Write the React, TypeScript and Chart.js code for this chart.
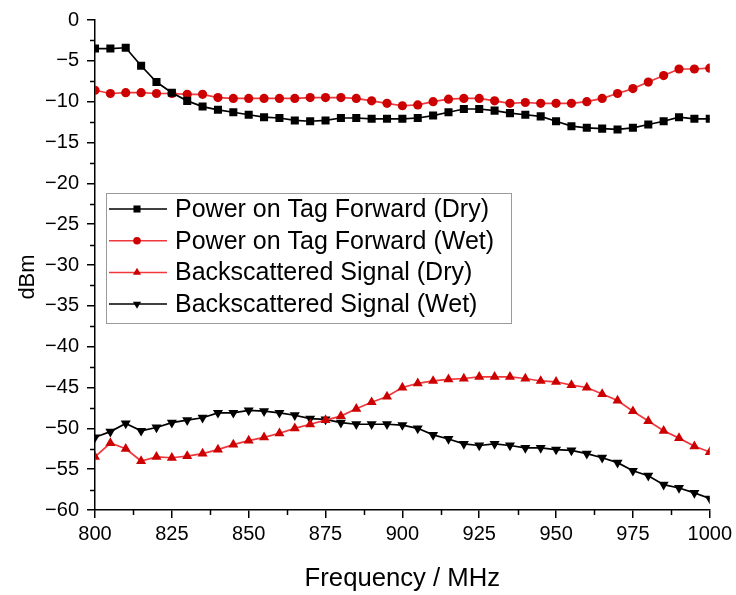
import React, { useEffect, useRef } from "react";
import { Chart, registerables } from "chart.js";

Chart.register(...registerables);

const frequencies = [
  800, 805, 810, 815, 820, 825, 830, 835, 840, 845, 850, 855, 860, 865, 870, 875, 880, 885, 890, 895,
  900, 905, 910, 915, 920, 925, 930, 935, 940, 945, 950, 955, 960, 965, 970, 975, 980, 985, 990, 995, 1000,
];

const powerDry = [
  -3.5, -3.5, -3.4, -5.6, -7.6, -8.9, -9.9, -10.6, -11.0, -11.3, -11.6, -11.9, -12.0, -12.3, -12.4, -12.3,
  -12.0, -12.0, -12.1, -12.1, -12.1, -12.0, -11.7, -11.3, -10.9, -10.9, -11.1, -11.4, -11.6, -11.8, -12.4,
  -13.0, -13.2, -13.3, -13.4, -13.2, -12.8, -12.4, -11.9, -12.1, -12.1,
];

const powerWet = [
  -8.6, -9.0, -8.9, -8.9, -9.0, -9.0, -9.1, -9.1, -9.5, -9.6, -9.6, -9.6, -9.6, -9.6, -9.5, -9.5, -9.5,
  -9.6, -9.9, -10.2, -10.5, -10.4, -10.0, -9.7, -9.6, -9.6, -9.9, -10.2, -10.1, -10.2, -10.2, -10.2, -10.0,
  -9.6, -9.0, -8.4, -7.6, -6.8, -6.0, -6.0, -5.9,
];

const backDry = [
  -53.5, -51.8, -52.5, -54.0, -53.5, -53.6, -53.4, -53.1, -52.6, -52.0, -51.5, -51.1, -50.6, -50.0, -49.5,
  -49.0, -48.5, -47.6, -46.8, -46.1, -45.0, -44.5, -44.2, -44.0, -43.9, -43.7, -43.7, -43.7, -43.9, -44.2,
  -44.3, -44.7, -45.0, -45.8, -46.6, -47.9, -49.1, -50.3, -51.2, -52.2, -52.9,
];

const backWet = [
  -51.1, -50.4, -49.4, -50.3, -49.9, -49.3, -49.0, -48.7, -48.1, -48.1, -47.8, -47.9, -48.1, -48.4, -48.8,
  -48.9, -49.3, -49.5, -49.5, -49.5, -49.6, -50.0, -50.8, -51.3, -51.9, -52.1, -51.9, -52.1, -52.4, -52.4,
  -52.6, -52.7, -53.1, -53.6, -54.2, -55.2, -55.8, -56.9, -57.3, -57.9, -58.6,
];

const seriesLabels = [
  "Power on Tag Forward (Dry)",
  "Power on Tag Forward (Wet)",
  "Backscattered Signal (Dry)",
  "Backscattered Signal (Wet)",
];

const yTitle = "dBm";
const xTitle = "Frequency / MHz";

const FONT = "Arial, 'Liberation Sans', sans-serif";
const RED_LINE = "#f0383c";
const RED_MARK = "#cc0000";

function toPoints(values: number[]) {
  return values.map((v, i) => ({ x: frequencies[i], y: v }));
}

function drawMarker(ctx: CanvasRenderingContext2D, style: string, rot: number, x: number, y: number, r: number, color: string) {
  ctx.save();
  ctx.fillStyle = color;
  ctx.beginPath();
  if (style === "rect") {
    const s = r * Math.SQRT1_2;
    ctx.rect(x - s, y - s, 2 * s, 2 * s);
  } else if (style === "circle") {
    ctx.arc(x, y, r, 0, Math.PI * 2);
  } else {
    let rad = (rot * Math.PI) / 180;
    ctx.moveTo(x + Math.sin(rad) * r, y - Math.cos(rad) * r);
    rad += (2 * Math.PI) / 3;
    ctx.lineTo(x + Math.sin(rad) * r, y - Math.cos(rad) * r);
    rad += (2 * Math.PI) / 3;
    ctx.lineTo(x + Math.sin(rad) * r, y - Math.cos(rad) * r);
    ctx.closePath();
  }
  ctx.fill();
  ctx.restore();
}

const minorTicksPlugin = {
  id: "minorTicks",
  afterDraw(chart: any) {
    const ctx = chart.ctx as CanvasRenderingContext2D;
    const xs = chart.scales.x;
    const ys = chart.scales.y;
    ctx.save();
    ctx.strokeStyle = "#000";
    ctx.lineWidth = 1.5;
    ctx.beginPath();
    for (let v = ys.min + 2.5; v < ys.max; v += 5) {
      const py = Math.round(ys.getPixelForValue(v)) + 0.5;
      ctx.moveTo(xs.left, py);
      ctx.lineTo(xs.left - 5, py);
    }
    for (let v = xs.min + 12.5; v < xs.max; v += 25) {
      const px = Math.round(xs.getPixelForValue(v)) + 0.5;
      ctx.moveTo(px, ys.bottom);
      ctx.lineTo(px, ys.bottom + 5);
    }
    ctx.stroke();
    // y axis title
    ctx.fillStyle = "#000";
    ctx.font = `22px ${FONT}`;
    ctx.textAlign = "center";
    ctx.textBaseline = "middle";
    ctx.translate(28, (ys.top + ys.bottom) / 2 + 12);
    ctx.rotate(-Math.PI / 2);
    ctx.fillText(yTitle, 0, 0);
    ctx.restore();
  },
};

const legendRadius: Record<string, number> = { rect: 5, circle: 3.8, triangle: 4.7 };

const boxLegendPlugin = {
  id: "boxLegend",
  afterDraw(chart: any) {
    const ctx = chart.ctx as CanvasRenderingContext2D;
    const area = chart.chartArea;
    const left = area.left + 11;
    const top = area.top + 173;
    const width = 405;
    const height = 130;
    ctx.save();
    ctx.fillStyle = "#fff";
    ctx.fillRect(left, top, width, height);
    ctx.strokeStyle = "#9a9a9a";
    ctx.lineWidth = 1;
    ctx.strokeRect(left + 0.5, top + 0.5, width, height);
    const rowGap = 31.7;
    chart.data.datasets.forEach((ds: any, i: number) => {
      const cy = top + 16 + i * rowGap;
      ctx.strokeStyle = ds.borderColor;
      ctx.lineWidth = 1.5;
      ctx.beginPath();
      ctx.moveTo(left + 3, cy);
      ctx.lineTo(left + 61, cy);
      ctx.stroke();
      drawMarker(ctx, ds.pointStyle, ds.pointRotation || 0, left + 31, cy, legendRadius[ds.pointStyle], ds.pointBackgroundColor);
      ctx.fillStyle = "#000";
      ctx.font = `25px ${FONT}`;
      ctx.textBaseline = "middle";
      ctx.textAlign = "left";
      ctx.fillText(ds.label, left + 69, cy + 1);
    });
    ctx.restore();
  },
};

export default function App() {
  const canvasRef = useRef<HTMLCanvasElement | null>(null);

  useEffect(() => {
    document.body.style.margin = "0";
    const canvas = canvasRef.current;
    if (!canvas) return;
    const mk = (i: number, values: number[], line: string, mark: string, style: string, radius: number, rot = 0) => ({
      label: seriesLabels[i],
      data: toPoints(values),
      borderColor: line,
      borderWidth: 1.7,
      pointBackgroundColor: mark,
      pointBorderColor: mark,
      pointBorderWidth: 0,
      pointStyle: style,
      pointRotation: rot,
      pointRadius: radius,
      pointHoverRadius: radius,
      tension: 0,
      fill: false,
    });
    const chart = new Chart(canvas, {
      type: "line",
      data: {
        datasets: [
          mk(0, powerDry, "#000", "#000", "rect", 5.7),
          mk(1, powerWet, RED_LINE, RED_MARK, "circle", 4.6),
          mk(2, backDry, RED_LINE, RED_MARK, "triangle", 5.8),
          mk(3, backWet, "#000", "#000", "triangle", 5.8, 180),
        ] as any,
      },
      options: {
        animation: false,
        responsive: false,
        devicePixelRatio: 1,
        layout: { padding: { left: 0, right: 25, top: 18, bottom: 0 } },
        plugins: { legend: { display: false }, tooltip: { enabled: false } },
        scales: {
          x: {
            type: "linear",
            min: 800,
            max: 1000,
            afterFit: (s: any) => {
              s.height = 85;
            },
            ticks: {
              stepSize: 25,
              color: "#000",
              font: { family: FONT, size: 20 },
              padding: 4,
              maxRotation: 0,
              callback: (v: any) => String(v),
            },
            grid: { drawOnChartArea: false, drawTicks: true, tickLength: 8, color: "#000", lineWidth: 1.5 },
            border: { display: true, color: "#000", width: 1.5 },
            title: {
              display: true,
              text: xTitle,
              color: "#000",
              font: { family: FONT, size: 25.7 },
              padding: { top: 0, bottom: 1 },
            },
          },
          y: {
            type: "linear",
            min: -60,
            max: 0,
            afterFit: (s: any) => {
              s.width = 95;
            },
            ticks: {
              stepSize: 5,
              color: "#000",
              font: { family: FONT, size: 20 },
              padding: 8,
              callback: (v: any) => String(v).replace("-", "\u2212"),
            },
            grid: { drawOnChartArea: false, drawTicks: true, tickLength: 8, color: "#000", lineWidth: 1.5 },
            border: { display: true, color: "#000", width: 1.5 },
            title: { display: false },
          },
        },
      },
      plugins: [minorTicksPlugin, boxLegendPlugin],
    });
    return () => chart.destroy();
  }, []);

  return (
    <div style={{ width: 736, height: 595 }}>
      <canvas ref={canvasRef} width={736} height={595} />
    </div>
  );
}
